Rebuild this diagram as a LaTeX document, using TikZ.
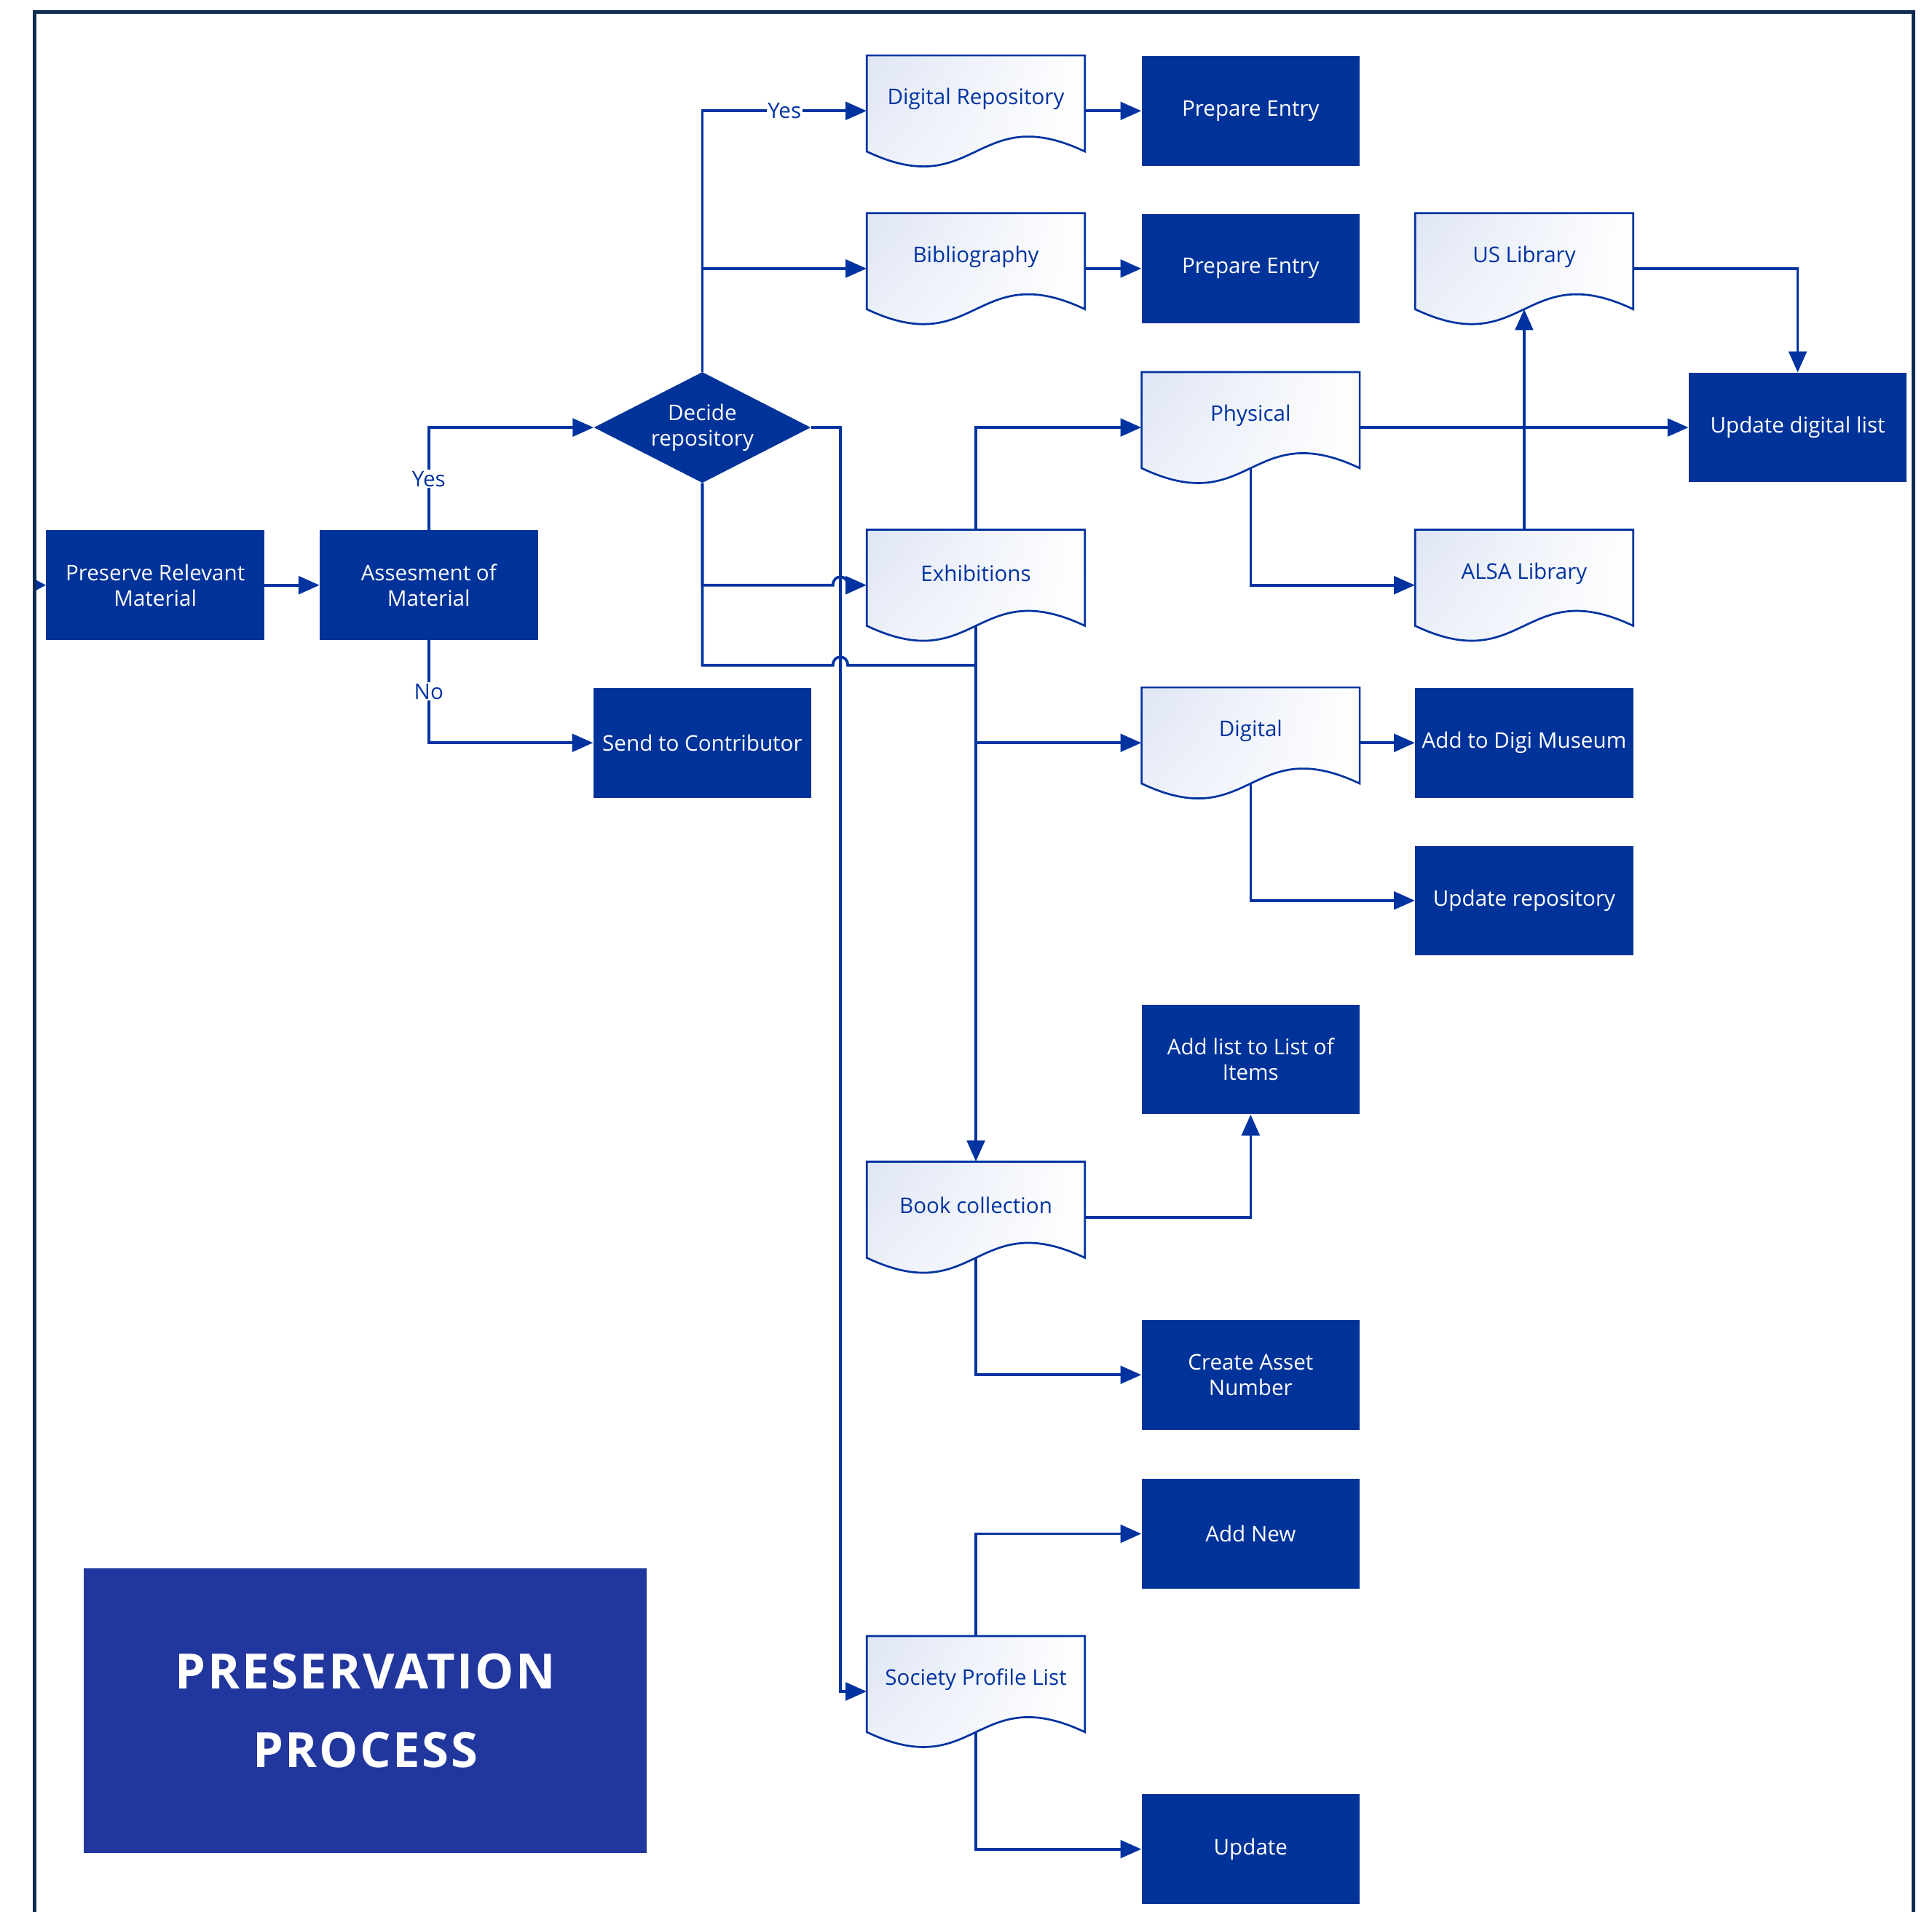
\documentclass[tikz,border=0pt]{standalone}
\usepackage{fontspec}
\setmainfont{Open Sans}
\usetikzlibrary{arrows.meta,shapes.geometric,calc,shadings}
\definecolor{boxblue}{RGB}{0,51,153}
\definecolor{lineblue}{RGB}{0,51,160}
\definecolor{titleblue}{RGB}{34,55,158}
\definecolor{framenavy}{RGB}{16,44,82}
\definecolor{docgrad}{RGB}{222,229,244}
\newfontfamily\titlefont[LetterSpace=4]{Open Sans}

\tikzset{
  proc/.style={rectangle, fill=boxblue, minimum width=177pt, minimum height=89pt,
    inner sep=0pt, text=white, font=\fontsize{17.5}{20.5}\selectfont, align=center},
  docbox/.style={rectangle, minimum width=177pt, minimum height=90pt, inner sep=0pt},
  doctext/.style={text=lineblue, font=\fontsize{17.5}{20.5}\selectfont, inner sep=0pt},
  docline/.style={shade, draw=lineblue, line width=1.6pt, upper left=docgrad, upper right=white,
    lower left=docgrad!45!white, lower right=white},
  decision/.style={diamond, fill=boxblue, inner sep=0pt, minimum width=176pt, minimum height=90pt},
  dectext/.style={text=white, font=\fontsize{17.5}{20.5}\selectfont, align=center, inner sep=0pt},
  conn/.style={draw=lineblue, line width=2.2pt, -{Triangle[length=17pt,width=14.5pt]}},
  lbl/.style={fill=white, text=lineblue, font=\fontsize{17.5}{20}\selectfont, inner sep=1pt},
  titlebox/.style={rectangle, fill=titleblue, minimum width=457pt, minimum height=231pt,
    inner sep=0pt, text=white, font=\titlefont\fontsize{39.5}{64}\bfseries, align=center},
}

\newcommand{\docshape}[4]{%
  \node[docbox] (#1) at (#2,#3) {};
  \path[docline] (#2-88.5,#3+33) -- (#2-88.5,#3-45) -- (#2+88.5,#3-45) -- (#2+88.5,#3+33)
     .. controls (#2,#3+33-42) and (#2,#3+33+42) .. (#2-88.5,#3+33) -- cycle;
  \node[doctext] (#1-t) at (#2,#3-9.5) {#4};
  \coordinate (#1-b) at (#2,#3+33);
}

\begin{document}
\begin{tikzpicture}[x=1pt, y=-1pt]
\useasboundingbox (0,0) rectangle (1568,1552);

% process boxes
\node[proc] (pres) at (126,475) {Preserve Relevant\\Material};
\node[proc] (asse) at (348,475) {Assesment of\\Material};
\node[decision] (dec) at (570,347) {};
\node[dectext] (dect) at (570,347) {Decide\\repository};
\node[proc] (send) at (570,603) {Send to Contributor};
\node[proc] (prep1) at (1015,90) {Prepare Entry};
\node[proc] (prep2) at (1015,218) {Prepare Entry};
\node[proc] (upddl) at (1459,347) {Update digital list};
\node[proc] (adddm) at (1237,603) {Add to Digi Museum};
\node[proc] (updrep) at (1237,731) {Update repository};
\node[proc] (addlist) at (1015,860) {Add list to List of\\Items};
\node[proc] (asset) at (1015,1116) {Create Asset\\Number};
\node[proc] (addnew) at (1015,1245) {Add New};
\node[proc] (upd) at (1015,1501) {Update};

% document shapes
\docshape{digrep}{792}{90}{Digital Repository}
\docshape{bib}{792}{218}{Bibliography}
\docshape{uslib}{1237}{218}{US Library}
\docshape{phys}{1015}{347}{Physical}
\docshape{exh}{792}{475}{Exhibitions}
\docshape{alsa}{1237}{475}{ALSA Library}
\docshape{digi}{1015}{603}{Digital}
\docshape{book}{792}{988}{Book collection}
\docshape{soc}{792}{1373}{Society Profile List}

% title
\node[titlebox] (title) at (296.5,1388.5) {PRESERVATION\\PROCESS};

% helper coordinates
\coordinate (inpt) at (28,475);
\coordinate (vx) at (682,347);
\coordinate (j2) at (682,540);

% connectors
\draw[draw=lineblue, line width=1.5pt, -{Triangle[length=9pt,width=9pt]}] (inpt) -- (pres.west);
\draw[conn] (pres.east) -- (asse.west);
\draw[conn] (asse.north) |- node[lbl, pos=0.25] {Yes} (dec.west);
\draw[conn] (asse.south) |- node[lbl, pos=0.25] {No} (send.west);
\draw[conn] (dec.north) |- node[lbl, pos=0.75] {Yes} (digrep.west);
\draw[conn] (dec.north) |- (bib.west);
\draw[conn] (dec.south) -- (dec.south |- exh.west) -- ([xshift=-6pt]vx |- exh.west)
   .. controls +(0,-9) and +(0,-9) .. ([xshift=6pt]vx |- exh.west) -- (exh.west);
\draw[conn] (dec.south) -- (dec.south |- j2) -- ([xshift=-6pt]j2)
   .. controls +(0,-9) and +(0,-9) .. ([xshift=6pt]j2) -- (book.north |- j2) -- (book.north);
\draw[conn] (dec.east) -- (vx) |- (soc.west);
\draw[conn] (digrep.east) -- (prep1.west);
\draw[conn] (bib.east) -- (prep2.west);
\draw[conn] (exh.north) |- (phys.west);
\draw[conn] (exh-b) |- (digi.west);
\draw[conn] (phys.east) -- (upddl.west);
\draw[conn] (phys-b) |- (alsa.west);
\draw[conn] (alsa.north) -- (uslib-b);
\draw[conn] (uslib.east) -| (upddl.north);
\draw[conn] (digi.east) -- (adddm.west);
\draw[conn] (digi-b) |- (updrep.west);
\draw[conn] (book.east) -| (addlist.south);
\draw[conn] (book-b) |- (asset.west);
\draw[conn] (soc.north) |- (addnew.west);
\draw[conn] (soc-b) |- (upd.west);

% frame
\draw[framenavy, line width=3pt] (28,1570) -- (28,10) -- (1553,10) -- (1553,1570);
\end{tikzpicture}
\end{document}
